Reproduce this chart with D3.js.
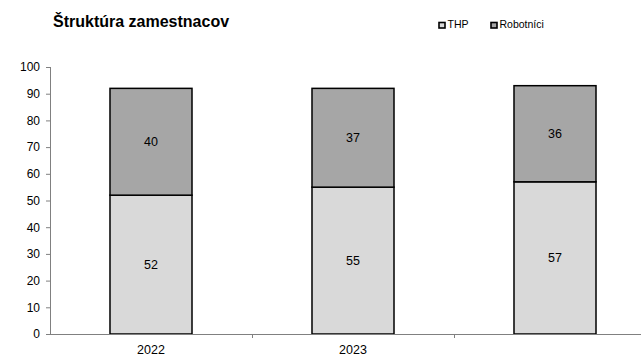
<!DOCTYPE html>
<html>
<head>
<meta charset="utf-8">
<script src="https://cdn.jsdelivr.net/npm/d3@7"></script>
<style>
  body { margin: 0; background: #fff; }
  text { font-family: "Liberation Sans", Arial, sans-serif; fill: #000; }
</style>
</head>
<body>
<svg id="chart" width="641" height="355"></svg>
<script>
// ----------

const YEARS = ["2022", "2023", ""];
const THP = [52, 55, 57];
const ROBOTNICI = [40, 37, 36];
const SERIES_NAMES = ["THP", "Robotníci"];
const Y_TICKS = [0, 10, 20, 30, 40, 50, 60, 70, 80, 90, 100];

const COLOR_THP = "#d9d9d9";
const COLOR_ROBOTNICI = "#a6a6a6";
const AXIS_COLOR = "#808080";

// ----------

const svg = d3.select("#chart");
const plotLeft = 50, plotTop = 67, plotBottom = 334, plotRight = 656;

const x = d3.scaleBand()
  .domain(YEARS)
  .range([plotLeft, plotRight])
  .paddingInner(0.594)
  .paddingOuter(0.297);

// same categories, no padding, for the tick marks between them
const xCat = d3.scaleBand().domain(YEARS).range([plotLeft, plotRight]);

const y = d3.scaleLinear().domain([0, 100]).range([plotBottom, plotTop]);

// title
svg.append("text")
  .attr("x", 53)
  .attr("y", 27)
  .style("font-size", "16px")
  .style("font-weight", "bold")
  .text("Štruktúra zamestnacov");

// legend
const legend = svg.append("g").attr("transform", "translate(438,21)");
const legendX = [0, 52];
[COLOR_THP, COLOR_ROBOTNICI].forEach(function (c, i) {
  legend.append("rect")
    .attr("x", legendX[i] + 1)
    .attr("y", 1.5)
    .attr("width", 6)
    .attr("height", 5.5)
    .attr("fill", c)
    .attr("stroke", "#000")
    .attr("stroke-width", 1.6);
  legend.append("text")
    .attr("x", legendX[i] + 9.5)
    .attr("y", 6.8)
    .style("font-size", "10.5px")
    .text(SERIES_NAMES[i]);
});

// y axis
const yAxis = svg.append("g")
  .attr("transform", "translate(" + plotLeft + ",0)")
  .call(d3.axisLeft(y).tickValues(Y_TICKS).tickSize(4).tickPadding(6));
yAxis.select(".domain").attr("stroke", AXIS_COLOR).attr("d", "M0.5," + plotTop + "V" + plotBottom);
yAxis.selectAll(".tick line").attr("stroke", AXIS_COLOR);
yAxis.selectAll(".tick text")
  .style("font-family", "'Liberation Sans', Arial, sans-serif")
  .style("font-size", "12px")
  .attr("fill", "#000");

// stacked bars
const rows = YEARS.map(function (yr, i) {
  return { year: yr, THP: THP[i], Robotnici: ROBOTNICI[i] };
});
const stack = d3.stack().keys(["THP", "Robotnici"])(rows);
const colors = [COLOR_THP, COLOR_ROBOTNICI];

stack.forEach(function (layer, li) {
  const g = svg.append("g");
  g.selectAll("rect")
    .data(layer)
    .enter()
    .append("rect")
    .attr("x", function (d) { return x(d.data.year); })
    .attr("width", x.bandwidth())
    .attr("y", function (d) { return y(d[1]); })
    .attr("height", function (d) { return y(d[0]) - y(d[1]); })
    .attr("fill", colors[li])
    .attr("stroke", "#000")
    .attr("stroke-width", 1.5);

  g.selectAll("text")
    .data(layer)
    .enter()
    .append("text")
    .attr("x", function (d) { return x(d.data.year) + x.bandwidth() / 2; })
    .attr("y", function (d) { return y((d[0] + d[1]) / 2) + 4.5; })
    .attr("text-anchor", "middle")
    .style("font-size", "12.5px")
    .text(function (d) { return d[1] - d[0]; });
});

// x axis
svg.append("line")
  .attr("x1", plotLeft - 4)
  .attr("x2", 641)
  .attr("y1", plotBottom + 0.5)
  .attr("y2", plotBottom + 0.5)
  .attr("stroke", AXIS_COLOR);

svg.selectAll(".xtick")
  .data(YEARS)
  .enter()
  .append("line")
  .attr("class", "xtick")
  .attr("x1", function (d) { return Math.round(xCat(d) + xCat.bandwidth()) + 0.5; })
  .attr("x2", function (d) { return Math.round(xCat(d) + xCat.bandwidth()) + 0.5; })
  .attr("y1", plotBottom)
  .attr("y2", plotBottom + 4)
  .attr("stroke", AXIS_COLOR);

svg.selectAll(".xlabel")
  .data(YEARS)
  .enter()
  .append("text")
  .attr("class", "xlabel")
  .attr("x", function (d) { return x(d) + x.bandwidth() / 2; })
  .attr("y", 353.5)
  .attr("text-anchor", "middle")
  .style("font-size", "12.5px")
  .text(function (d) { return d; });
</script>
</body>
</html>
